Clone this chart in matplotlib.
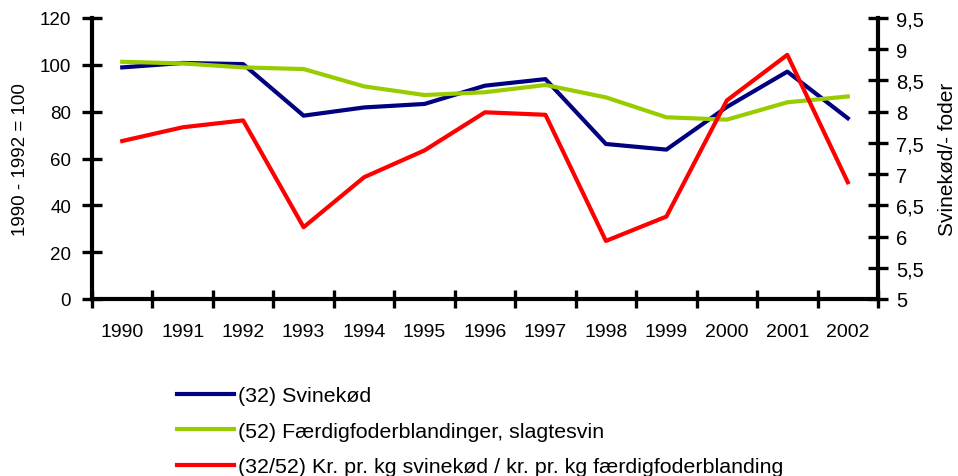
import matplotlib
matplotlib.use("Agg")
import matplotlib.pyplot as plt
import numpy as np

plt.rcParams['font.family'] = ['Liberation Sans', 'DejaVu Sans']

years = ["1990", "1991", "1992", "1993", "1994", "1995", "1996",
         "1997", "1998", "1999", "2000", "2001", "2002"]
svinekod = [98.9, 100.8, 100.3, 78.3, 81.8, 83.3, 91.1, 93.9, 66.2, 63.8, 82.0, 97.1, 77.2]
foder = [101.3, 100.6, 98.9, 98.2, 90.8, 87.1, 88.3, 91.4, 86.1, 77.6, 76.6, 84.0, 86.5]
ratio = [7.53, 7.75, 7.86, 6.15, 6.95, 7.38, 7.99, 7.95, 5.93, 6.32, 8.18, 8.91, 6.87]

labels = ["(32) Svinekød",
          "(52) Færdigfoderblandinger, slagtesvin",
          "(32/52) Kr. pr. kg svinekød / kr. pr. kg færdigfoderblanding"]
colors = ["#000080", "#99CC00", "#FF0000"]

W, H = 958, 477
fig = plt.figure(figsize=(W / 100, H / 100), dpi=100)
ax = fig.add_axes([92 / W, 1 - 300 / H, (878 - 92) / W, (300 - 19) / H])
ax2 = ax.twinx()

x = np.arange(len(years))
l1, = ax.plot(x, svinekod, color=colors[0], lw=3)
l2, = ax.plot(x, foder, color=colors[1], lw=3)
l3, = ax2.plot(x, ratio, color=colors[2], lw=3)

ax.set_xlim(-0.5, len(years) - 0.5)
ax.set_ylim(0, 120)
ax2.set_ylim(5, 9.5)
ax.set_yticks(np.arange(0, 121, 20))
rt = np.arange(5, 9.51, 0.5)
ax2.set_yticks(rt)
ax2.set_yticklabels([("%g" % v).replace(".", ",") for v in rt])

ax.set_xticks(x)
ax.set_xticklabels(years)
ax.set_xticks(np.arange(-0.5, len(years), 1), minor=True)
ax.tick_params(axis='x', which='major', length=0, pad=17, labelsize=14)
ax.tick_params(axis='x', which='minor', direction='inout', length=13, width=2.4)
ax.tick_params(axis='y', direction='inout', length=14, width=2.4, labelsize=13.5, pad=8)
ax2.tick_params(axis='y', direction='inout', length=14, width=2.4, labelsize=14.5, pad=6)

for a in (ax, ax2):
    for s in a.spines.values():
        s.set_visible(False)
ax.spines['left'].set_visible(True)
ax.spines['bottom'].set_visible(True)
ax2.spines['right'].set_visible(True)
for s in (ax.spines['left'], ax.spines['bottom'], ax2.spines['right']):
    s.set_linewidth(3)
    s.set_color('black')

ax.set_ylabel("1990 - 1992 = 100", fontsize=13.5, labelpad=8)
ax2.set_ylabel("Svinekød/- foder", fontsize=15, labelpad=10)

fig.legend([l1, l2, l3], labels, loc='upper left', bbox_to_anchor=(177 / W, 1 - 387 / H),
           frameon=False, fontsize=15.4, handlelength=2.67, handletextpad=0.19,
           labelspacing=0.78, borderpad=0, borderaxespad=0)

fig.savefig("out.png", dpi=100)
